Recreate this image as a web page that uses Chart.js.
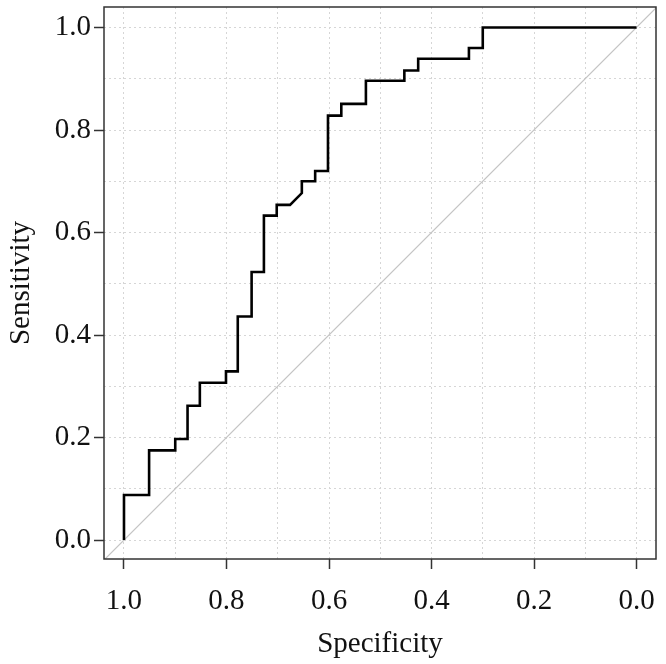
<!DOCTYPE html>
<html>
<head>
<meta charset="utf-8">
<script src="https://cdn.jsdelivr.net/npm/chart.js@4"></script>
<style>
  body { margin: 0; background: #fff; }
</style>
</head>
<body>
<canvas id="rocChart" width="666" height="664"></canvas>
<script>
// ROC curve points
const specificity = [1.0, 1.0, 0.951, 0.951, 0.900, 0.900, 0.876, 0.876, 0.852, 0.852,
  0.801, 0.801, 0.778, 0.778, 0.751, 0.751, 0.727, 0.727, 0.702, 0.702,
  0.676, 0.653, 0.653, 0.627, 0.627, 0.602, 0.602, 0.576, 0.576, 0.528,
  0.528, 0.453, 0.453, 0.426, 0.426, 0.327, 0.327, 0.300, 0.300, 0.0];
const sensitivity = [0.0, 0.088, 0.088, 0.175, 0.175, 0.197, 0.197, 0.262, 0.262, 0.307,
  0.307, 0.329, 0.329, 0.436, 0.436, 0.523, 0.523, 0.633, 0.633, 0.654,
  0.654, 0.677, 0.700, 0.700, 0.720, 0.720, 0.828, 0.828, 0.851, 0.851,
  0.896, 0.896, 0.916, 0.916, 0.939, 0.939, 0.960, 0.960, 1.0, 1.0];

// chance line, runs corner to corner of the box
const diagX = [1.039, -0.038];
const diagY = [-0.039, 1.038];

const tickLabels = ['0.0', '0.2', '0.4', '0.6', '0.8', '1.0'];

const curve = specificity.map((s, i) => ({ x: s, y: sensitivity[i] }));
const diag = diagX.map((d, i) => ({ x: d, y: diagY[i] }));

const serif = 'Liberation Serif';

function isMajor(v) {
  return tickLabels.includes(Number(v).toFixed(1)) && Math.abs(v * 10 - Math.round(v * 10)) < 1e-6 && Math.round(v * 10) % 2 === 0;
}

const frame = {
  id: 'frame',
  afterDraw(chart) {
    const a = chart.chartArea;
    const ctx = chart.ctx;
    ctx.save();
    ctx.strokeStyle = '#333';
    ctx.lineWidth = 1.5;
    ctx.strokeRect(a.left, a.top, a.right - a.left, a.bottom - a.top);
    ctx.restore();
  }
};

function axis(titleText, extra) {
  return Object.assign({
    type: 'linear',
    ticks: {
      stepSize: 0.1,
      includeBounds: false,
      autoSkip: false,
      maxRotation: 0,
      color: '#111',
      font: { family: serif, size: 29 },
      callback: v => isMajor(v) ? Number(v).toFixed(1) : ''
    },
    grid: {
      color: '#d6d6d6',
      lineWidth: 1,
      tickLength: 10,
      tickWidth: 1.5,
      tickColor: c => (c.tick && isMajor(c.tick.value)) ? '#333' : 'rgba(0,0,0,0)'
    },
    border: { display: false, dash: [2, 3] },
    title: {
      display: true,
      text: titleText,
      color: '#111',
      font: { family: serif, size: 29 }
    }
  }, extra);
}

const xAxis = axis('Specificity', {
  reverse: true,
  min: -0.038,
  max: 1.039,
  afterFit: s => { s.height = 105; s.paddingLeft = 0; s.paddingRight = 0; }
});
xAxis.ticks.padding = 15;
xAxis.title.padding = { top: 4, bottom: 2 };

const yAxis = axis('Sensitivity', {
  min: -0.037,
  max: 1.04,
  afterFit: s => { s.width = 104; s.paddingTop = 0; s.paddingBottom = 0; }
});

new Chart('rocChart', {
  type: 'line',
  data: {
    datasets: [
      {
        data: curve,
        borderColor: '#000',
        borderWidth: 2.6,
        pointRadius: 0,
        fill: false,
        tension: 0
      },
      {
        data: diag,
        borderColor: '#c4c4c4',
        borderWidth: 1.2,
        pointRadius: 0,
        fill: false
      }
    ]
  },
  options: {
    responsive: false,
    animation: false,
    layout: { padding: { top: 7, right: 10, left: 0, bottom: 0 } },
    plugins: { legend: { display: false }, tooltip: { enabled: false } },
    scales: { x: xAxis, y: yAxis }
  },
  plugins: [frame]
});
</script>
</body>
</html>
